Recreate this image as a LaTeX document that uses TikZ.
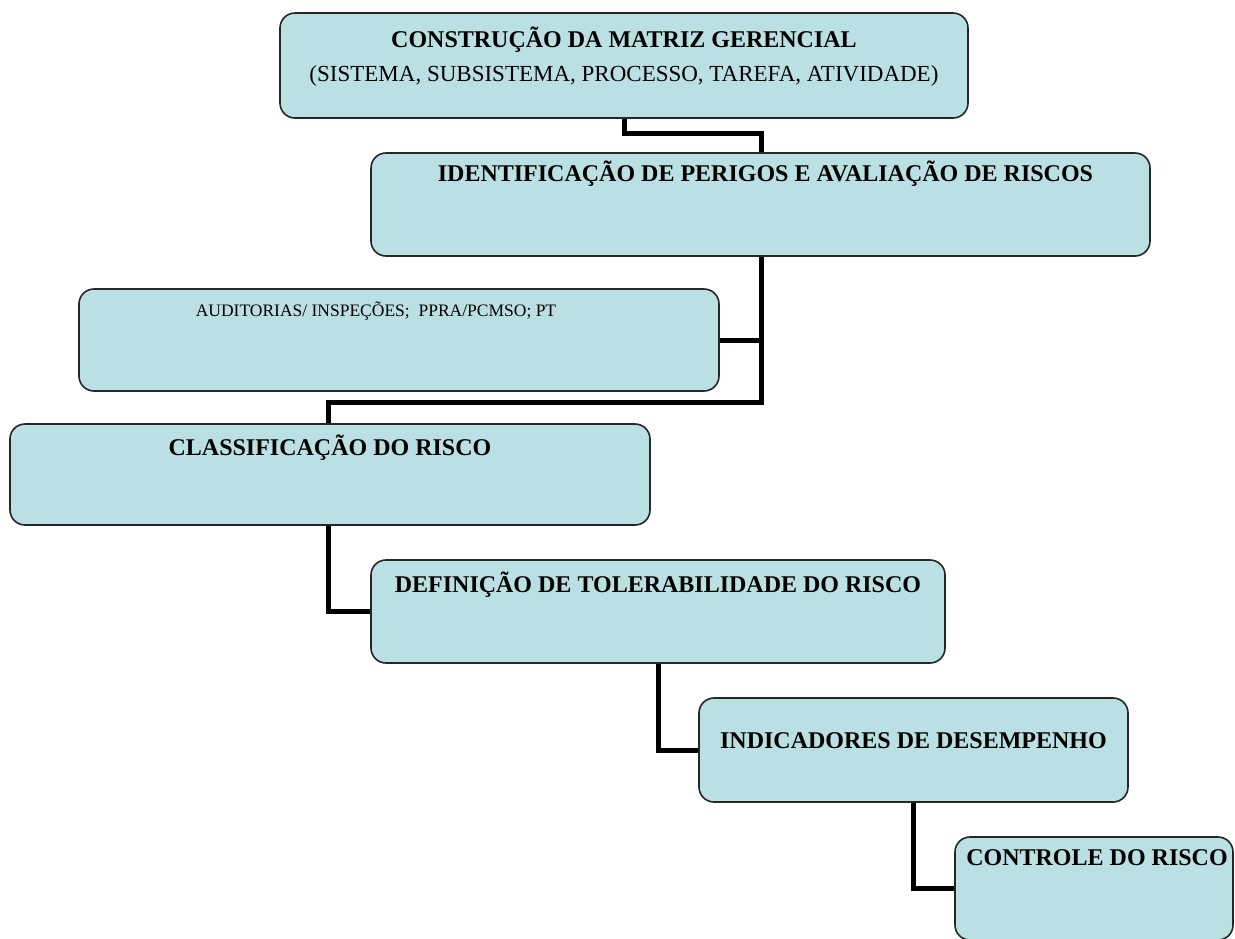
\documentclass[tikz,border=0pt]{standalone}
\usepackage{fontspec}
\setmainfont{Liberation Serif}
\usetikzlibrary{backgrounds}
\definecolor{boxfill}{RGB}{186,224,227}
\tikzset{
  box/.style={draw=black!85, line width=1.6pt, fill=boxfill, rounded corners=15pt, inner sep=0pt},
  ttl/.style={font=\fontsize{24}{28}\selectfont\bfseries, inner sep=0pt},
  sub/.style={font=\fontsize{23}{27}\selectfont, inner sep=0pt},
  small/.style={font=\fontsize{17.5}{21}\selectfont, inner sep=0pt},
  conn/.style={line width=5pt, black},
}
\begin{document}
\begin{tikzpicture}[x=1pt,y=-1pt]
\useasboundingbox (0,0) rectangle (1235,938);
\clip (0,0) rectangle (1235,938);
% boxes
\node[box, minimum width=688pt, minimum height=105pt] (b1) at (624,65.5) {};
\node[box, minimum width=779pt, minimum height=103pt] (b2) at (760.5,204.5) {};
\node[box, minimum width=640pt, minimum height=102pt] (b3) at (399,340) {};
\node[box, minimum width=640pt, minimum height=101pt] (b4) at (330,474.5) {};
\node[box, minimum width=574pt, minimum height=103pt] (b5) at (658,611.5) {};
\node[box, minimum width=429pt, minimum height=104pt] (b6) at (913.5,750) {};
\node[box, minimum width=278pt, minimum height=103pt] (b7) at (1094,888.5) {};
% texts
\node[ttl] (t1) at ([yshift=-27pt]b1.north) {CONSTRUÇÃO DA MATRIZ GERENCIAL};
\node[sub] (t1s) at ([yshift=-64pt]b1.north) {(SISTEMA, SUBSISTEMA, PROCESSO, TAREFA, ATIVIDADE)};
\node[ttl] (t2) at ([xshift=5pt,yshift=-21pt]b2.north) {IDENTIFICAÇÃO DE PERIGOS E AVALIAÇÃO DE RISCOS};
\node[small] (t3) at ([xshift=-23pt,yshift=-23pt]b3.north) {AUDITORIAS/ INSPEÇÕES;\ \ PPRA/PCMSO; PT};
\node[ttl] (t4) at ([yshift=-24pt]b4.north) {CLASSIFICAÇÃO DO RISCO};
\node[ttl] (t5) at ([yshift=-25pt]b5.north) {DEFINIÇÃO DE TOLERABILIDADE DO RISCO};
\node[ttl] (t6) at ([yshift=-43pt]b6.north) {INDICADORES DE DESEMPENHO};
\node[ttl] (t7) at ([xshift=3pt,yshift=-21pt]b7.north) {CONTROLE DO RISCO};
% connectors
\begin{scope}[on background layer]
\coordinate (j1) at (761,133);
\coordinate (j2) at (761,402);
\draw[conn] (b1.south) |- (j1) -- (b2.north -| j1);
\draw[conn] (b2.south -| j1) -- (j2) -| (b4.north -| 328,0);
\draw[conn] (b3.east) -- (b3.east -| j1);
\draw[conn] (b4.south -| 328,0) |- (b5.west);
\draw[conn] (b5.south) |- (b6.west);
\draw[conn] (b6.south) |- (b7.west);
\end{scope}
\end{tikzpicture}
\end{document}
